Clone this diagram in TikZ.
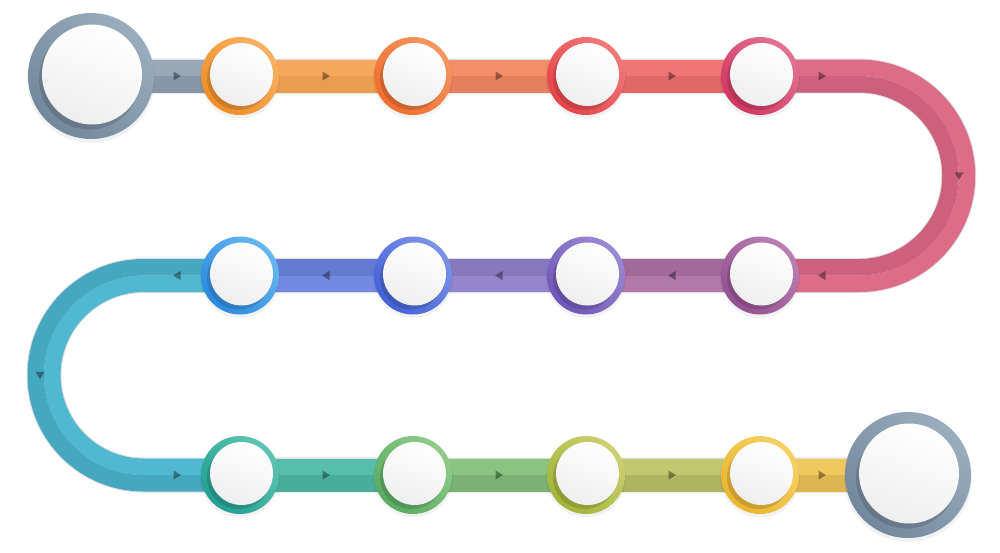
\documentclass[tikz,border=0pt]{standalone}
\usetikzlibrary{calc}
% track bands (light / dark)
\definecolor{greyL}{HTML}{98A8B7}\definecolor{greyD}{HTML}{8797A8}
\definecolor{oraL}{HTML}{F6A95E}\definecolor{oraD}{HTML}{EA9C51}
\definecolor{corL}{HTML}{F38E68}\definecolor{corD}{HTML}{E4805D}
\definecolor{redL}{HTML}{F07676}\definecolor{redD}{HTML}{E06868}
\definecolor{pinL}{HTML}{DD6C89}\definecolor{pinD}{HTML}{CD607C}
\definecolor{mauL}{HTML}{B278AA}\definecolor{mauD}{HTML}{A26A9B}
\definecolor{purL}{HTML}{9486CC}\definecolor{purD}{HTML}{8678BD}
\definecolor{perL}{HTML}{728AE1}\definecolor{perD}{HTML}{657AD1}
\definecolor{tblL}{HTML}{51B8D1}\definecolor{tblD}{HTML}{46A7C1}
\definecolor{tgrL}{HTML}{56BEAA}\definecolor{tgrD}{HTML}{49AD99}
\definecolor{grnL}{HTML}{89C581}\definecolor{grnD}{HTML}{79B271}
\definecolor{ygL}{HTML}{BFC76F}\definecolor{ygD}{HTML}{ADB561}
\definecolor{yelL}{HTML}{EFC85E}\definecolor{yelD}{HTML}{DEB651}
% rings (dark / light)
\definecolor{bigRD}{HTML}{6B8197}\definecolor{bigRL}{HTML}{9AADBE}
\definecolor{c1D}{HTML}{EE8519}\definecolor{c1L}{HTML}{F8B263}
\definecolor{c2D}{HTML}{EE6424}\definecolor{c2L}{HTML}{F59660}
\definecolor{c3D}{HTML}{E3373F}\definecolor{c3L}{HTML}{F07A7A}
\definecolor{c4D}{HTML}{CC2857}\definecolor{c4L}{HTML}{E37393}
\definecolor{c5D}{HTML}{8A4689}\definecolor{c5L}{HTML}{BA80B3}
\definecolor{c6D}{HTML}{6549B1}\definecolor{c6L}{HTML}{9A8AD4}
\definecolor{c7D}{HTML}{3556D2}\definecolor{c7L}{HTML}{7D93E8}
\definecolor{c8D}{HTML}{1D7FDB}\definecolor{c8L}{HTML}{66B8F0}
\definecolor{c9D}{HTML}{13978A}\definecolor{c9L}{HTML}{5FC4B2}
\definecolor{c10D}{HTML}{4AA357}\definecolor{c10L}{HTML}{90CC89}
\definecolor{c11D}{HTML}{98AE2B}\definecolor{c11L}{HTML}{CCD072}
\definecolor{c12D}{HTML}{E8AE22}\definecolor{c12L}{HTML}{F6D166}
\definecolor{discgrey}{HTML}{EEEEEE}

\tikzset{
  band/.style={line width=0.33cm},
  ringnode/.style={circle, inner sep=0pt, outer sep=0pt, minimum size=1.56cm},
  bigringnode/.style={circle, inner sep=0pt, outer sep=0pt, minimum size=2.52cm},
  disc/.style={circle, inner sep=0pt, outer sep=0pt, minimum size=1.26cm,
    top color=white, bottom color=discgrey, shading angle=-20},
  bigdisc/.style={circle, inner sep=0pt, outer sep=0pt, minimum size=2.0cm,
    top color=white, bottom color=discgrey, shading angle=-20},
  tipmark/.style={fill=black, fill opacity=0.38},
  discshadow/.style={fill=black, fill opacity=0.14},
  ringshadow/.style={fill=black, fill opacity=0.05},
}

\newcommand\ringat[3]{% anchor coordinate, dark, light
  \fill[ringshadow] ($(#1)+(0,2.5)$) circle[radius=40];
  \node[ringnode, bottom color=#2!80!#3, top color=#3, shading angle=-45] (#1ring) at (#1) {};
  \fill[discshadow] ($(#1)+(-1.2,2.2)$) circle[radius=31.8];
  \node[disc] (#1disc) at ($(#1)+(1.5,-1.5)$) {};
}
\newcommand\bigringat[1]{%
  \fill[ringshadow] ($(#1)+(0,3)$) circle[radius=64];
  \node[bigringnode, bottom color=bigRD!85!bigRL, top color=bigRL, shading angle=-45] (#1ring) at (#1) {};
  \fill[discshadow] ($(#1)+(-1.5,3)$) circle[radius=50.5];
  \node[bigdisc] (#1disc) at ($(#1)+(1,-1.5)$) {};
}
\newcommand\tipat[3]{%
  \fill[tipmark, rotate around={#3:(#1,#2)}] (#1+4,#2) -- (#1-3.5,#2-4.5) -- (#1-3.5,#2+4.5) -- cycle;
}

\begin{document}
\begin{tikzpicture}[x=0.02cm,y=-0.02cm]
\useasboundingbox (0,0) rectangle (1000,552);
\fill[white] (0,0) rectangle (1000,552);

% stop positions
\coordinate (t0) at (91,76);
\coordinate (t1) at (240,76);
\coordinate (t2) at (413,76);
\coordinate (t3) at (586,76);
\coordinate (t4) at (760,76);
\coordinate (m4) at (760,275.5);
\coordinate (m3) at (586,275.5);
\coordinate (m2) at (413,275.5);
\coordinate (m1) at (240,275.5);
\coordinate (b1) at (240,475);
\coordinate (b2) at (413,475);
\coordinate (b3) at (586,475);
\coordinate (b4) at (760,475);
\coordinate (b5) at (908,475);
\coordinate (rc) at (859,175.75);
\coordinate (lc) at (143.75,375.25);

% track outline
\draw[line width=0.70cm, black, opacity=0.13]
  (t0) -- ($(rc)+(0,-99.75)$) arc[start angle=-90,end angle=90,radius=99.75]
  -- ($(lc)+(0,-99.75)$) arc[start angle=-90,end angle=-270,radius=99.75] -- (b5);

% top row
\draw[band, greyL] ($(t0)+(0,-8.25)$) -- ($(t1)+(0,-8.25)$);
\draw[band, greyD] ($(t0)+(0,8.25)$) -- ($(t1)+(0,8.25)$);
\draw[band, oraL] ($(t1)+(0,-8.25)$) -- ($(t2)+(0,-8.25)$);
\draw[band, oraD] ($(t1)+(0,8.25)$) -- ($(t2)+(0,8.25)$);
\draw[band, corL] ($(t2)+(0,-8.25)$) -- ($(t3)+(0,-8.25)$);
\draw[band, corD] ($(t2)+(0,8.25)$) -- ($(t3)+(0,8.25)$);
\draw[band, redL] ($(t3)+(0,-8.25)$) -- ($(t4)+(0,-8.25)$);
\draw[band, redD] ($(t3)+(0,8.25)$) -- ($(t4)+(0,8.25)$);
% right bend
\draw[band, pinL] ($(t4)+(0,-8.25)$) -- ($(rc)+(0,-108)$)
  arc[start angle=-90,end angle=90,radius=108] -- ($(m4)+(0,8.25)$);
\draw[band, pinD] ($(t4)+(0,8.25)$) -- ($(rc)+(0,-91.5)$)
  arc[start angle=-90,end angle=90,radius=91.5] -- ($(m4)+(0,-8.25)$);
% middle row
\draw[band, mauL] ($(m4)+(0,8.25)$) -- ($(m3)+(0,8.25)$);
\draw[band, mauD] ($(m4)+(0,-8.25)$) -- ($(m3)+(0,-8.25)$);
\draw[band, purL] ($(m3)+(0,8.25)$) -- ($(m2)+(0,8.25)$);
\draw[band, purD] ($(m3)+(0,-8.25)$) -- ($(m2)+(0,-8.25)$);
\draw[band, perL] ($(m2)+(0,8.25)$) -- ($(m1)+(0,8.25)$);
\draw[band, perD] ($(m2)+(0,-8.25)$) -- ($(m1)+(0,-8.25)$);
% left bend
\draw[band, tblL] ($(m1)+(0,8.25)$) -- ($(lc)+(0,-91.5)$)
  arc[start angle=-90,end angle=-270,radius=91.5] -- ($(b1)+(0,-8.25)$);
\draw[band, tblD] ($(m1)+(0,-8.25)$) -- ($(lc)+(0,-108)$)
  arc[start angle=-90,end angle=-270,radius=108] -- ($(b1)+(0,8.25)$);
% bottom row
\draw[band, tgrL] ($(b1)+(0,-8.25)$) -- ($(b2)+(0,-8.25)$);
\draw[band, tgrD] ($(b1)+(0,8.25)$) -- ($(b2)+(0,8.25)$);
\draw[band, grnL] ($(b2)+(0,-8.25)$) -- ($(b3)+(0,-8.25)$);
\draw[band, grnD] ($(b2)+(0,8.25)$) -- ($(b3)+(0,8.25)$);
\draw[band, ygL] ($(b3)+(0,-8.25)$) -- ($(b4)+(0,-8.25)$);
\draw[band, ygD] ($(b3)+(0,8.25)$) -- ($(b4)+(0,8.25)$);
\draw[band, yelL] ($(b4)+(0,-8.25)$) -- ($(b5)+(0,-8.25)$);
\draw[band, yelD] ($(b4)+(0,8.25)$) -- ($(b5)+(0,8.25)$);

% direction marks
\tipat{177}{76}{0}\tipat{326}{76}{0}\tipat{499}{76}{0}\tipat{672}{76}{0}\tipat{822}{76}{0}
\tipat{959}{175.75}{-90}
\tipat{822}{275.5}{180}\tipat{672}{275.5}{180}\tipat{499}{275.5}{180}\tipat{326}{275.5}{180}\tipat{177}{275.5}{180}
\tipat{40}{375.25}{-90}
\tipat{177}{475}{0}\tipat{326}{475}{0}\tipat{499}{475}{0}\tipat{672}{475}{0}\tipat{822}{475}{0}

% stops
\bigringat{t0}
\ringat{t1}{c1D}{c1L}
\ringat{t2}{c2D}{c2L}
\ringat{t3}{c3D}{c3L}
\ringat{t4}{c4D}{c4L}
\ringat{m4}{c5D}{c5L}
\ringat{m3}{c6D}{c6L}
\ringat{m2}{c7D}{c7L}
\ringat{m1}{c8D}{c8L}
\ringat{b1}{c9D}{c9L}
\ringat{b2}{c10D}{c10L}
\ringat{b3}{c11D}{c11L}
\ringat{b4}{c12D}{c12L}
\bigringat{b5}
\end{tikzpicture}
\end{document}
